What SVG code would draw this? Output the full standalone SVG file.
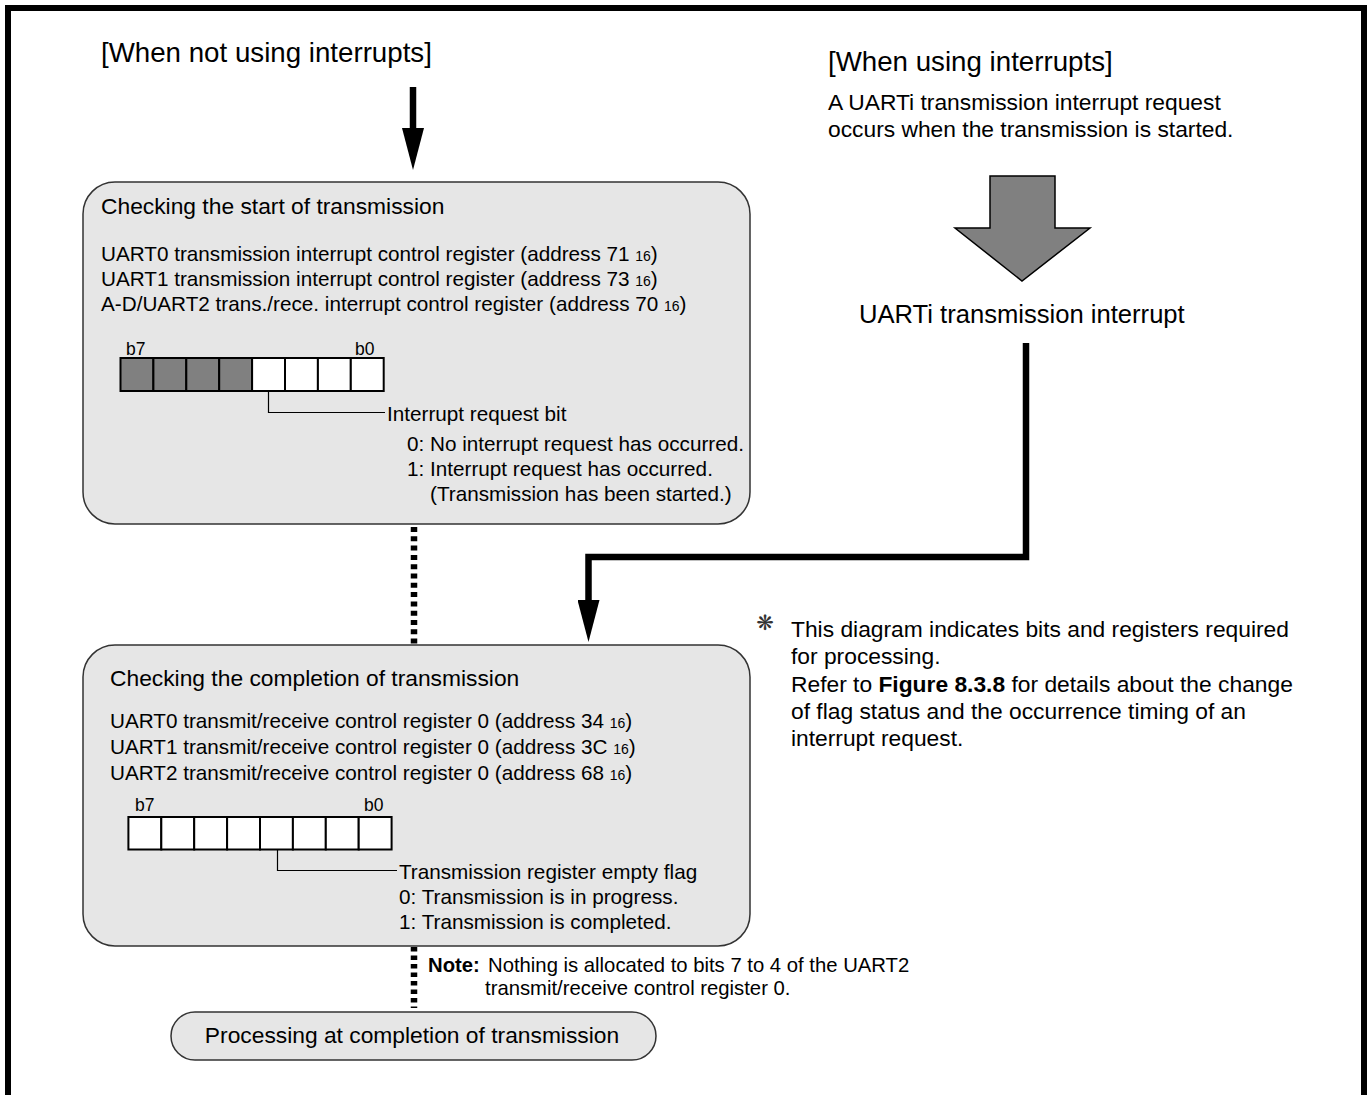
<svg xmlns="http://www.w3.org/2000/svg" width="1370" height="1095" viewBox="0 0 1370 1095">
<style>
text{font-family:"Liberation Sans",Arial,Helvetica,sans-serif;fill:#000}
.h{font-size:27.7px}
.t{font-size:22.8px}
.r{font-size:20.7px}
.sub{font-size:14px}
.lbl{font-size:17.5px}
.box{fill:#e6e6e6;stroke:#333;stroke-width:1.5}
.cell{fill:#fff;stroke:#000;stroke-width:2}
.cell.g{fill:#808080}
.lead{fill:none;stroke:#000;stroke-width:1.2}
.dot{fill:none;stroke:#000;stroke-width:6.5}
.thick{fill:none;stroke:#000;stroke-width:6.5;stroke-linejoin:miter}
</style>
<defs>
<marker id="ah" markerUnits="userSpaceOnUse" viewBox="0 0 42 22" markerWidth="42" markerHeight="22" refX="0" refY="11" orient="auto">
<path d="M0,0 L42,11 L0,22 Z" fill="#000"/>
</marker>
</defs>
<rect x="8" y="8" width="1356" height="1200" fill="#fff" stroke="#000" stroke-width="6"/>

<g id="heading-left">
<text class="h" x="101" y="62">[When not using interrupts]</text>
</g>
<g id="heading-right">
<text class="h" x="828" y="71">[When using interrupts]</text>
<text class="t" x="828" y="110">A UARTi transmission interrupt request</text>
<text class="t" x="828" y="137">occurs when the transmission is started.</text>
</g>

<g id="connectors">
<path d="M413,87 V128" class="thick" marker-end="url(#ah)"/>
<polygon points="990,176 1055,176 1055,228 1090,228 1022,281 955,228 990,228" fill="#808080" stroke="#000" stroke-width="1.5"/>
<path d="M1026,343 V557 H588.5 V600" class="thick" marker-end="url(#ah)"/>
<path d="M414,527 V644" class="dot" stroke-dasharray="5 4.3"/>
<path d="M414,947 V1008" class="dot" stroke-dasharray="4.5 4"/>
</g>

<g id="uart-interrupt">
<text style="font-size:25.6px" x="859" y="323">UARTi transmission interrupt</text>
</g>

<g id="box-start">
<rect class="box" x="83" y="182" width="667" height="342" rx="32"/>
<text class="t" x="101" y="214">Checking the start of transmission</text>
<text class="r" x="101" y="261">UART0 transmission interrupt control register (address 71 <tspan class="sub">16</tspan>)</text>
<text class="r" x="101" y="286">UART1 transmission interrupt control register (address 73 <tspan class="sub">16</tspan>)</text>
<text class="r" x="101" y="311">A-D/UART2 trans./rece. interrupt control register (address 70 <tspan class="sub">16</tspan>)</text>
<text class="lbl" x="126" y="355">b7</text>
<text class="lbl" x="355" y="355">b0</text>
<rect class="cell g" x="120.5" y="358" width="32.9" height="33"/>
<rect class="cell g" x="153.4" y="358" width="32.9" height="33"/>
<rect class="cell g" x="186.3" y="358" width="32.9" height="33"/>
<rect class="cell g" x="219.2" y="358" width="32.9" height="33"/>
<rect class="cell" x="252.1" y="358" width="32.9" height="33"/>
<rect class="cell" x="285" y="358" width="32.9" height="33"/>
<rect class="cell" x="317.9" y="358" width="32.9" height="33"/>
<rect class="cell" x="350.8" y="358" width="32.9" height="33"/>
<path class="lead" d="M268.5,392 V412.5 H385"/>
<text class="r" x="387" y="421">Interrupt request bit</text>
<text class="r" x="407" y="451">0: No interrupt request has occurred.</text>
<text class="r" x="407" y="476">1: Interrupt request has occurred.</text>
<text class="r" x="430" y="501">(Transmission has been started.)</text>
</g>

<g id="box-complete">
<rect class="box" x="83" y="645" width="667" height="301" rx="32"/>
<text class="t" x="110" y="686">Checking the completion of transmission</text>
<text class="r" x="110" y="728">UART0 transmit/receive control register 0 (address 34 <tspan class="sub">16</tspan>)</text>
<text class="r" x="110" y="754">UART1 transmit/receive control register 0 (address 3C <tspan class="sub">16</tspan>)</text>
<text class="r" x="110" y="780">UART2 transmit/receive control register 0 (address 68 <tspan class="sub">16</tspan>)</text>
<text class="lbl" x="135" y="811">b7</text>
<text class="lbl" x="364" y="811">b0</text>
<rect class="cell" x="128.4" y="817" width="32.9" height="32.5"/>
<rect class="cell" x="161.3" y="817" width="32.9" height="32.5"/>
<rect class="cell" x="194.2" y="817" width="32.9" height="32.5"/>
<rect class="cell" x="227.1" y="817" width="32.9" height="32.5"/>
<rect class="cell" x="260" y="817" width="32.9" height="32.5"/>
<rect class="cell" x="292.9" y="817" width="32.9" height="32.5"/>
<rect class="cell" x="325.8" y="817" width="32.9" height="32.5"/>
<rect class="cell" x="358.7" y="817" width="32.9" height="32.5"/>
<path class="lead" d="M277.5,850 V870.5 H397"/>
<text class="r" x="399" y="879">Transmission register empty flag</text>
<text class="r" x="399" y="904">0: Transmission is in progress.</text>
<text class="r" x="399" y="929">1: Transmission is completed.</text>
</g>

<g id="note">
<text style="font-size:20.3px" x="428" y="972"><tspan font-weight="bold">Note:</tspan></text>
<text style="font-size:20.3px" x="488" y="972">Nothing is allocated to bits 7 to 4 of the UART2</text>
<text style="font-size:20.3px" x="485" y="995">transmit/receive control register 0.</text>
</g>

<g id="box-processing">
<rect class="box" x="171" y="1012" width="485" height="48" rx="24"/>
<text class="t" x="412" y="1043" text-anchor="middle">Processing at completion of transmission</text>
</g>

<g id="remark">
<text x="765" y="630" text-anchor="middle" style="font-family:'DejaVu Sans',sans-serif;font-size:21px;fill:#333">❋</text>
<text class="t" x="791" y="637">This diagram indicates bits and registers required</text>
<text class="t" x="791" y="664">for processing.</text>
<text class="t" x="791" y="692">Refer to <tspan font-weight="bold">Figure 8.3.8</tspan> for details about the change</text>
<text class="t" x="791" y="719">of flag status and the occurrence timing of an</text>
<text class="t" x="791" y="746">interrupt request.</text>
</g>
</svg>
